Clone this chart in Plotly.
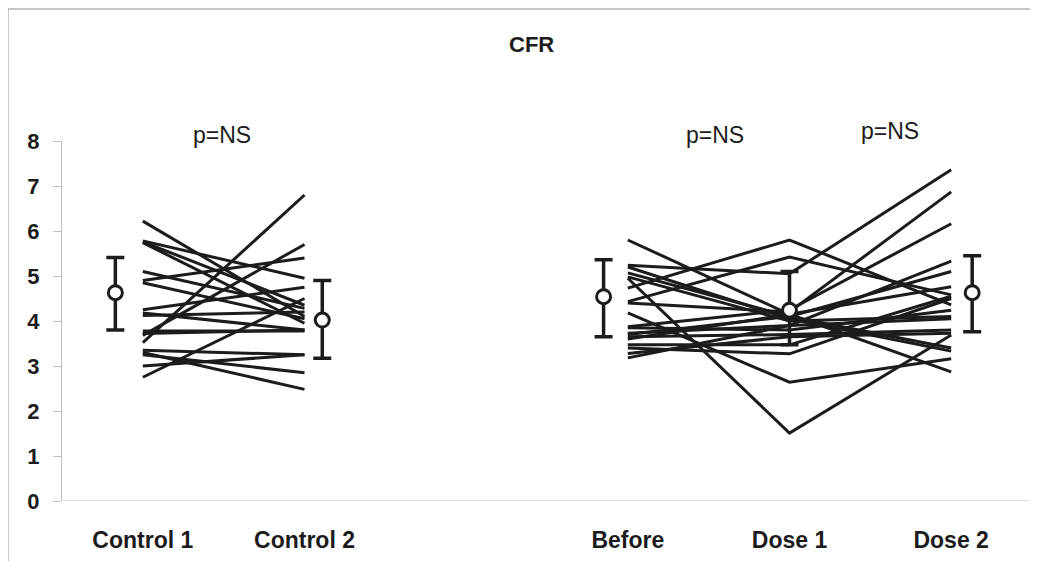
import plotly.graph_objects as go

# ---- data ----
categories = ["Control 1", "Control 2", "", "Before", "Dose 1", "Dose 2"]

control1 = [6.22, 5.78, 5.76, 5.74, 5.10, 4.90, 4.85, 4.25, 4.18, 4.12, 3.78, 3.72, 3.68, 3.52, 3.35, 3.30, 3.25, 3.00, 2.75]
control2 = [4.10, 4.95, 4.35, 3.95, 4.28, 5.40, 4.05, 4.75, 3.80, 4.20, 3.78, 3.80, 5.70, 6.80, 3.25, 2.48, 2.85, 3.25, 4.50]

before = [5.80, 5.24, 5.20, 5.07, 4.98, 4.95, 4.73, 4.43, 4.40, 4.18, 3.87, 3.85, 3.73, 3.70, 3.65, 3.60, 3.47, 3.40, 3.28, 3.18]
dose1  = [4.15, 5.05, 4.05, 4.10, 4.00, 1.51, 5.80, 5.42, 4.20, 2.64, 4.25, 3.80, 3.90, 4.10, 3.70, 4.15, 3.47, 3.27, 3.65, 3.90]
dose2  = [2.87, 7.36, 3.33, 3.40, 4.10, 3.69, 4.36, 4.58, 6.87, 3.16, 6.16, 4.24, 5.33, 5.10, 3.80, 4.76, 4.55, 4.50, 3.73, 4.05]

mean_labels = ["Control 1", "Control 2", "Before", "Dose 1", "Dose 2"]
mean_offsets = [-0.17, 0.11, -0.15, 0.0, 0.13]
means = [4.63, 4.02, 4.54, 4.24, 4.63]
err_up = [0.78, 0.88, 0.82, 0.86, 0.82]
err_dn = [0.83, 0.85, 0.89, 0.77, 0.87]

pvalue_text = ["p=NS", "p=NS", "p=NS"]
pvalue_xpaper = [0.165, 0.673, 0.8536]
pvalue_ypaper = [1.0167, 1.0167, 1.028]

title_text = "CFR"

idx = {c: i for i, c in enumerate(categories) if c}

fig = go.Figure()

INK = "#1c1c1c"
LINE = dict(color=INK, width=3)
FONT = "Liberation Sans, Arial"

# control lines
xs, ys = [], []
for a, b in zip(control1, control2):
    xs += [idx["Control 1"], idx["Control 2"], None]
    ys += [a, b, None]
fig.add_trace(go.Scatter(x=xs, y=ys, mode="lines", line=LINE, hoverinfo="skip"))

# dose lines
xs, ys = [], []
for a, b, c in zip(before, dose1, dose2):
    xs += [idx["Before"], idx["Dose 1"], idx["Dose 2"], None]
    ys += [a, b, c, None]
fig.add_trace(go.Scatter(x=xs, y=ys, mode="lines", line=LINE, hoverinfo="skip"))

# mean +/- markers
fig.add_trace(go.Scatter(
    x=[idx[l] + o for l, o in zip(mean_labels, mean_offsets)],
    y=means,
    mode="markers",
    marker=dict(symbol="circle", size=14, color="white", line=dict(color=INK, width=3)),
    error_y=dict(type="data", symmetric=False, array=err_up, arrayminus=err_dn,
                 color=INK, thickness=3.5, width=9),
    hoverinfo="skip",
))

for t, x, y in zip(pvalue_text, pvalue_xpaper, pvalue_ypaper):
    fig.add_annotation(x=x, y=y, xref="paper", yref="paper", text=t, showarrow=False,
                       font=dict(family=FONT, size=23, color=INK),
                       yanchor="middle", xanchor="center")

fig.add_annotation(x=0.4845, y=1.2667, xref="paper", yref="paper", text=title_text,
                   showarrow=False, yanchor="middle", xanchor="center",
                   font=dict(family=FONT, size=22, color=INK, weight="bold"))

# outer border
fig.add_shape(type="rect", xref="paper", yref="paper",
              x0=-0.0557, x1=1.1, y0=-0.3, y1=1.3667,
              line=dict(color="#b5b5b5", width=1.5), fillcolor="rgba(0,0,0,0)")

tick_vals = [i for i, c in enumerate(categories) if c]
tick_text = [c for c in categories if c]

fig.update_layout(
    width=1030, height=553,
    margin=dict(l=54, r=6, t=133, b=60),
    plot_bgcolor="white", paper_bgcolor="white",
    showlegend=False,
    xaxis=dict(range=[-0.5, 5.5], tickvals=tick_vals, ticktext=tick_text, ticks="",
               showgrid=False, zeroline=False, showline=False,
               ticklabelstandoff=23,
               tickfont=dict(family=FONT, size=23, color=INK, weight="bold")),
    yaxis=dict(range=[0, 8], dtick=1, ticks="outside", ticklen=8, tickcolor="#c0c0c0",
               showgrid=False, zeroline=False, showline=True, linecolor="#c0c0c0", linewidth=1,
               ticklabelstandoff=9,
               tickfont=dict(family=FONT, size=22, color=INK, weight="bold")),
)
# baseline at y=0
fig.add_shape(type="line", xref="paper", yref="y", x0=0, x1=1, y0=0, y1=0,
              line=dict(color="#c0c0c0", width=1), layer="below")

fig.write_html("out.html")
